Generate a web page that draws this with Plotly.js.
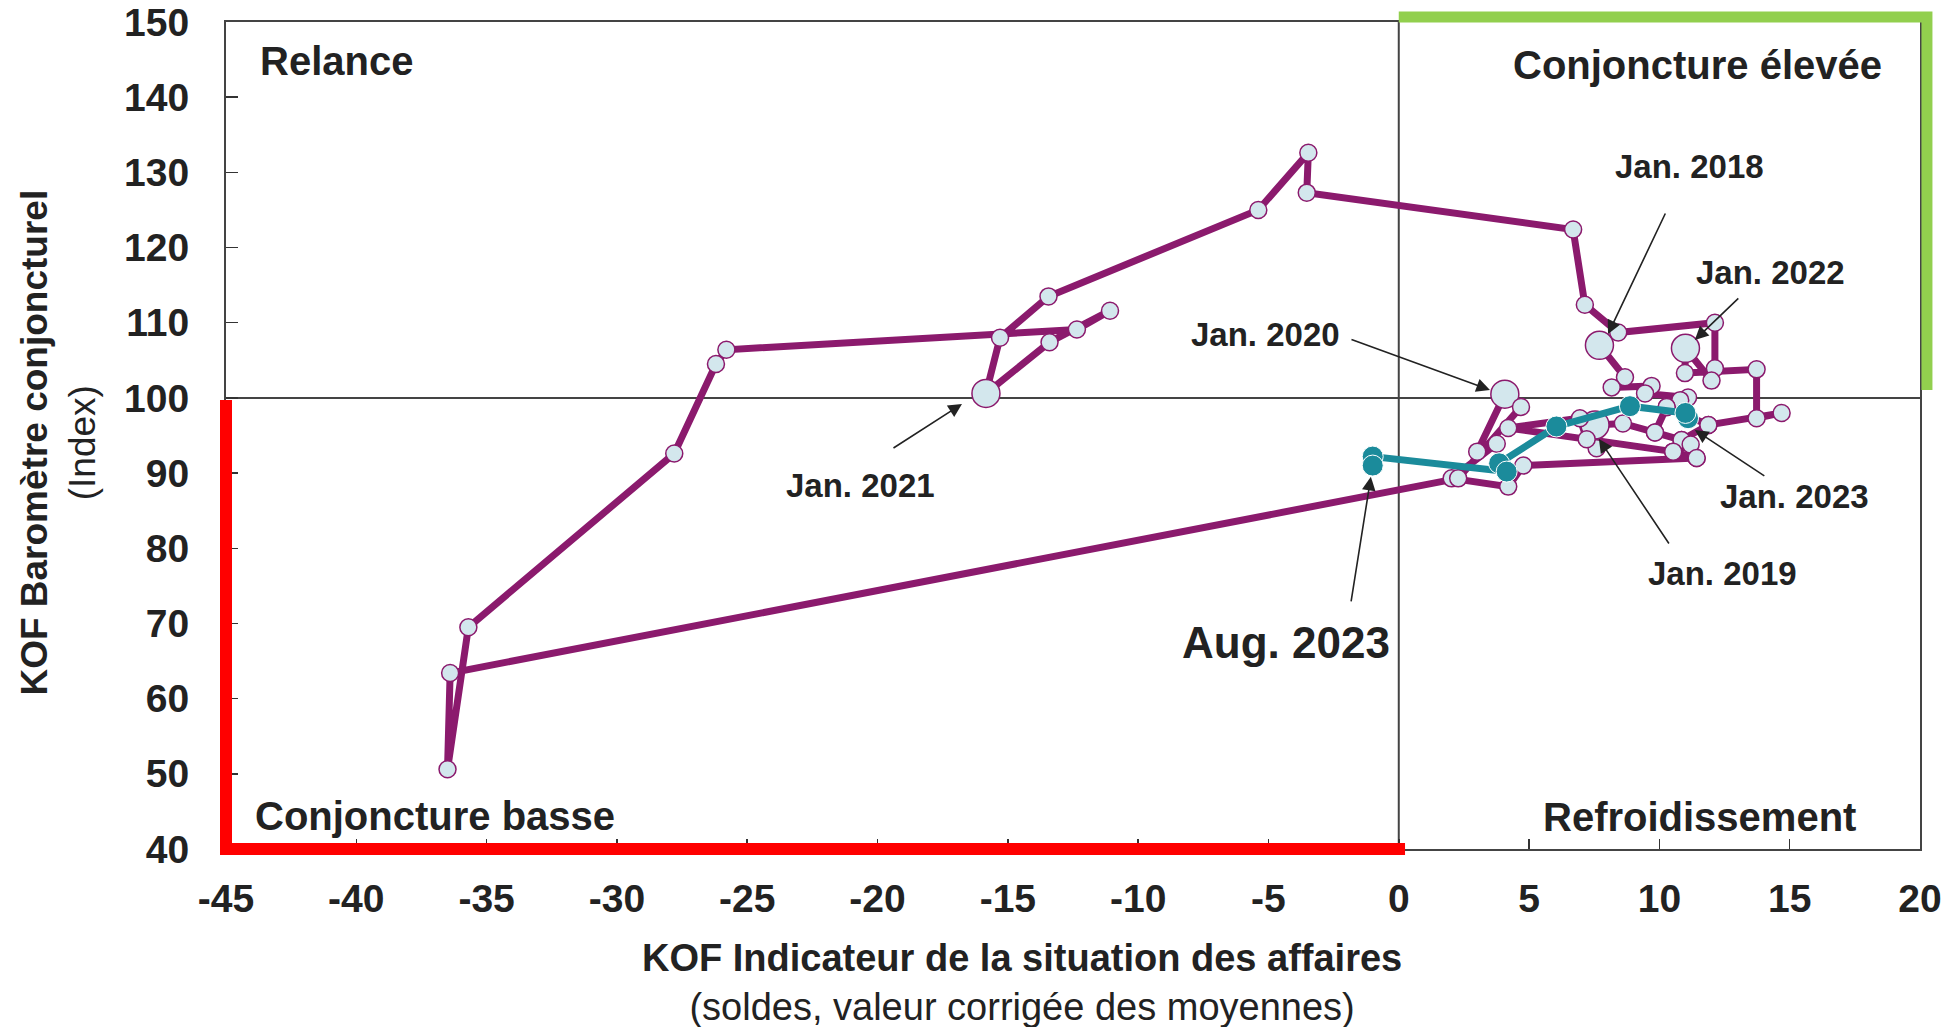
<!DOCTYPE html>
<html><head><meta charset="utf-8">
<script src="https://cdn.plot.ly/plotly-3.0.1.min.js"></script>
<style>html,body{margin:0;padding:0;background:#fff;} #chart{width:1954px;height:1027px;}</style>
</head><body><div id="chart"></div>
<script>
// KOF Indicateur de la situation des affaires (x) vs KOF Baromètre conjoncturel (y)
// Monthly, Jan. 2018 – Dec. 2022
const purpleX = [
  7.70, 8.68, 8.17, 9.70, 9.45, 11.10, 10.80, 10.28, 11.88, 10.85, 9.83, 8.60,
  7.53, 7.59, 7.21, 6.95, 4.20, 10.53, 11.43, 4.78, 4.20, 2.03, 3.76, 3.01,
  4.07, 4.69, 2.28, -36.4, -36.5, -35.7, -27.8, -26.2, -25.8, -12.35, -11.08, -13.4,
  -15.84, -15.3, -13.44, -5.39, -3.47, -3.53, 6.69, 7.14, 8.42, 12.13, 12.13, 12.0,
  11.0, 10.98, 13.73, 13.73, 14.69, 11.88, 10.28, 9.83, 10.85, 10.53, 11.20, 11.43
];
const purpleY = [
  107.0, 102.75, 101.4, 101.6, 100.6, 100.05, 99.7, 98.8, 96.4, 94.4, 95.4, 96.6,
  96.4, 93.3, 94.5, 97.3, 96.0, 92.85, 92.0, 91.0, 88.2, 89.3, 93.9, 92.85,
  100.5, 98.8, 89.3, 63.4, 50.6, 69.5, 92.6, 104.5, 106.4, 109.1, 111.6, 107.4,
  100.6, 108.0, 113.5, 125.0, 132.6, 127.3, 122.4, 112.4, 108.7, 110.0, 103.95, 102.3,
  106.6, 103.3, 103.8, 97.3, 98.0, 96.4, 98.8, 95.4, 94.4, 92.85, 93.8, 92.0
];
// Jan. 2023 – Aug. 2023
const tealX = [11.1, 11.0, 8.87, 6.05, 3.85, 4.14, -1.0, -1.0];
const tealY = [97.3, 98.0, 98.9, 96.2, 91.3, 90.2, 92.2, 91.0];

const xTickVals = [-45, -40, -35, -30, -25, -20, -15, -10, -5, 0, 5, 10, 15, 20];
const xTickText = ['-45', '-40', '-35', '-30', '-25', '-20', '-15', '-10', '-5', '0', '5', '10', '15', '20'];
const yTickVals = [40, 50, 60, 70, 80, 90, 100, 110, 120, 130, 140, 150];

const quadrantLabels = ['Relance', 'Conjoncture élevée', 'Conjoncture basse', 'Refroidissement'];
const calloutLabels = ['Jan. 2018', 'Jan. 2022', 'Jan. 2020', 'Jan. 2021', 'Jan. 2023', 'Jan. 2019', 'Aug. 2023'];
const xTitleLines = ['KOF Indicateur de la situation des affaires', '(soldes, valeur corrigée des moyennes)'];
const yTitleLines = ['KOF Baromètre conjoncturel', '(Index)'];

const FONT = 'Liberation Sans, Arial, Helvetica, sans-serif';
const PURPLE = '#8b1a6d';
const TEAL = '#1b8b9b';
const DOT = '#d3e7ed';
const TXT = '#222222';

const purpleSizes = purpleX.map((_, i) => (i % 12 === 0 ? 28 : 17));
const tealSizes = tealX.map(() => 21);

const traces = [
  {
    type: 'scatter', mode: 'lines+markers', x: purpleX, y: purpleY,
    line: {color: PURPLE, width: 7},
    marker: {size: purpleSizes, color: DOT, opacity: 1, line: {color: PURPLE, width: 1.5}},
    hoverinfo: 'skip', cliponaxis: false
  },
  {
    type: 'scatter', mode: 'lines+markers', x: tealX, y: tealY,
    line: {color: TEAL, width: 7},
    marker: {size: tealSizes, color: TEAL, opacity: 1},
    hoverinfo: 'skip', cliponaxis: false
  }
];

// callout text positions (data coords) and arrow tips / tails
const calloutText = [
  [11.17, 130.75], [14.28, 116.65], [-5.12, 108.5], [-20.66, 88.4],
  [15.2, 86.95], [12.44, 76.6], [-4.33, 67.5]
];
const calloutArrow = [
  [8.03, 108.5, 58, -122], [11.36, 107.7, 45, -43], [3.5, 101.06, -140, -51],
  [-16.76, 99.2, -70, 45], [11.36, 95.74, 71, 47], [7.68, 94.54, 71, 106],
  [-1.07, 89.5, -20, 126]
];

const annotations = [];
calloutLabels.forEach((lab, i) => {
  const big = lab.startsWith('Aug');
  annotations.push({
    x: calloutText[i][0], y: calloutText[i][1], xref: 'x', yref: 'y',
    text: '<b>' + lab + '</b>', showarrow: false,
    font: {family: FONT, size: big ? 44 : 33, color: TXT},
    xanchor: 'center', yanchor: 'middle'
  });
  const a = calloutArrow[i];
  annotations.push({
    x: a[0], y: a[1], xref: 'x', yref: 'y', text: '', showarrow: true,
    ax: a[2], ay: a[3], axref: 'pixel', ayref: 'pixel',
    arrowhead: 2, arrowsize: 1.7, arrowwidth: 1.6, arrowcolor: TXT, standoff: 0
  });
});

const quadPos = [
  [-43.76, 144.86, 'left'], [18.61, 144.3, 'right'],
  [-43.95, 44.4, 'left'], [17.62, 44.3, 'right']
];
quadrantLabels.forEach((lab, i) => {
  annotations.push({
    x: quadPos[i][0], y: quadPos[i][1], xref: 'x', yref: 'y',
    text: '<b>' + lab + '</b>', showarrow: false,
    font: {family: FONT, size: 40, color: TXT},
    xanchor: quadPos[i][2], yanchor: 'middle'
  });
});

// axis titles
annotations.push({
  x: 0.47, y: -0.1614, xref: 'paper', yref: 'paper',
  text: '<b>' + xTitleLines[0] + '</b><br>' + xTitleLines[1],
  showarrow: false, font: {family: FONT, size: 38, color: TXT},
  xanchor: 'center', yanchor: 'middle', align: 'center'
});
annotations.push({
  x: -0.0989, y: 0.492, xref: 'paper', yref: 'paper',
  text: '<b>' + yTitleLines[0] + '</b><br>' + yTitleLines[1],
  showarrow: false, textangle: -90, font: {family: FONT, size: 37, color: TXT},
  xanchor: 'center', yanchor: 'middle', align: 'center'
});

const shapes = [
  {type: 'line', xref: 'x', yref: 'paper', x0: 0, x1: 0, y0: 0, y1: 1, line: {color: '#444', width: 2}, layer: 'below'},
  {type: 'line', xref: 'paper', yref: 'y', x0: 0, x1: 1, y0: 100, y1: 100, line: {color: '#444', width: 2}, layer: 'below'},
  {type: 'path', xref: 'paper', yref: 'paper', path: 'M 0.6923 1.006 L 1.0041 1.006 L 1.0041 0.555',
   line: {color: '#92cf4e', width: 11}, layer: 'above'},
  {type: 'path', xref: 'paper', yref: 'paper', path: 'M 0 0.543 L 0 0 L 0.696 0',
   line: {color: '#ff0000', width: 12}, layer: 'above'}
];

const layout = {
  width: 1954, height: 1027,
  margin: {l: 226, r: 34, t: 22, b: 178, pad: 0},
  paper_bgcolor: '#ffffff', plot_bgcolor: '#ffffff',
  showlegend: false,
  font: {family: FONT, color: TXT},
  xaxis: {
    range: [-45, 20], tickvals: xTickVals, ticktext: xTickText,
    ticks: 'inside', ticklen: 10, tickwidth: 1.5, tickcolor: '#333',
    showline: true, mirror: true, linecolor: '#444', linewidth: 2,
    showgrid: false, zeroline: false,
    tickfont: {family: FONT, size: 39, color: TXT, weight: 'bold'},
    ticklabelstandoff: 14
  },
  yaxis: {
    range: [40, 150], tickvals: yTickVals,
    ticks: 'inside', ticklen: 12, tickwidth: 1.5, tickcolor: '#333',
    showline: true, mirror: true, linecolor: '#444', linewidth: 2,
    showgrid: false, zeroline: false,
    tickfont: {family: FONT, size: 39, color: TXT, weight: 'bold'},
    ticklabelstandoff: 27
  },
  shapes: shapes,
  annotations: annotations
};

Plotly.newPlot('chart', traces, layout, {displayModeBar: false, staticPlot: true});
</script>
</body></html>
